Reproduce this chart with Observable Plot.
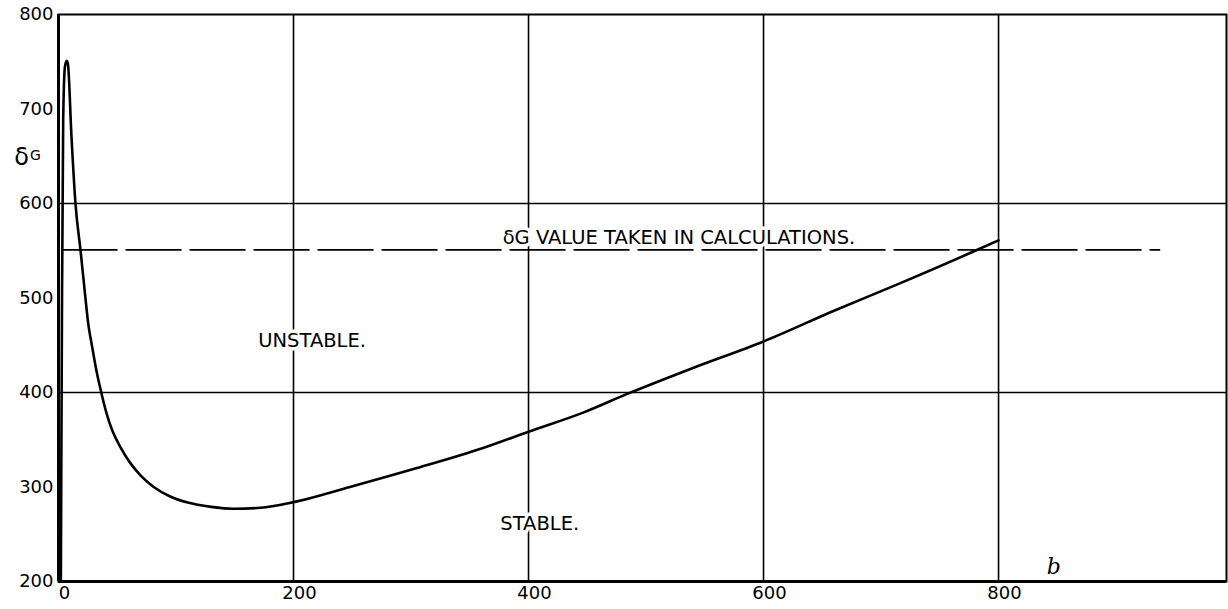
<!DOCTYPE html>
<html>
<head>
<meta charset="utf-8">
<script src="https://cdn.jsdelivr.net/npm/d3@7"></script>
<script src="https://cdn.jsdelivr.net/npm/@observablehq/plot@0.6"></script>
<style>
  html, body { margin: 0; padding: 0; background: #fff; }
  #chart { width: 1228px; height: 609px; }
</style>
</head>
<body>
<div id="chart"></div>
<script>
// Curve: b (horizontal) vs δG (vertical)
const bVals = [2, 3, 4, 5.5, 7, 8, 11, 14.5, 18.7, 23, 25.2, 28.7, 32.3, 36.6, 40.9, 45.7, 52.8, 61.3, 70, 81, 95, 110, 130, 149, 172, 200, 248, 305, 362, 400, 447, 484, 540, 600, 660, 717, 782, 800];
const gVals = [200, 500, 690, 745, 751, 748, 672, 599, 551, 499, 474, 448, 423, 399, 378, 360, 342, 325, 312, 300, 290, 283.5, 279, 277, 278, 284, 300, 320, 341.5, 358.5, 379, 398.5, 426, 454, 486.5, 516, 551, 561];

const xTicks = [0, 200, 400, 600, 800];
const yTicks = [200, 300, 400, 500, 600, 700, 800];
const xGrid = [200, 400, 600, 800];
const yGrid = [400, 600];

const takenValue = 551;          // δG value taken in calculations
const takenFrom = 3, takenTo = 938;

const noteText = ["δG VALUE TAKEN IN CALCULATIONS.", "UNSTABLE.", "STABLE."];
const noteB = [378, 170, 376];
const noteG = [564, 455, 261];

const curve = bVals.map((b, i) => ({b, g: gVals[i]}));
const notes = noteText.map((t, i) => ({t, b: noteB[i], g: noteG[i]}));

const chart = Plot.plot({
  width: 1228,
  height: 609,
  marginLeft: 58,
  marginRight: 2,
  marginTop: 14,
  marginBottom: 28,
  style: {fontFamily: "'DejaVu Sans', sans-serif", fontSize: "18px", background: "#fff", color: "#000"},
  x: {domain: [0, 994]},
  y: {domain: [200, 800]},
  marks: [
    Plot.ruleX(xGrid, {stroke: "#000", strokeWidth: 1.6}),
    Plot.ruleY(yGrid, {stroke: "#000", strokeWidth: 1.4}),
    Plot.text(notes, {x: "b", y: "g", text: "t", textAnchor: "start", fontSize: 19.5, letterSpacing: 1.9, fill: "#000", stroke: "#fff", strokeWidth: 7}),
    Plot.ruleY([takenValue], {x1: takenFrom, x2: takenTo, stroke: "#000", strokeWidth: 1.8, strokeDasharray: "56,8"}),
    Plot.line(curve, {x: "b", y: "g", curve: "monotone-x", stroke: "#000", strokeWidth: 2.6}),
    Plot.frame({stroke: "#000", strokeWidth: 2}),
    Plot.ruleX([0], {stroke: "#000", strokeWidth: 3}),
    Plot.ruleY([200], {stroke: "#000", strokeWidth: 3}),
    Plot.axisX({ticks: xTicks, tickSize: 0, tickPadding: 5, dx: 6, fontSize: 18, label: null}),
    Plot.axisY({ticks: yTicks, tickSize: 0, tickPadding: 5, fontSize: 18, label: null}),
    Plot.text(["δ"], {frameAnchor: "top-left", dx: -37, dy: 133, fontSize: 24, textAnchor: "middle"}),
    Plot.text(["G"], {frameAnchor: "top-left", dx: -23, dy: 136, fontSize: 14, textAnchor: "middle"}),
    Plot.text(["b"], {x: [847], y: [215], fontSize: 22, fontStyle: "italic", fontFamily: "'DejaVu Serif', serif"})
  ]
});
document.getElementById("chart").appendChild(chart);
</script>
</body>
</html>
